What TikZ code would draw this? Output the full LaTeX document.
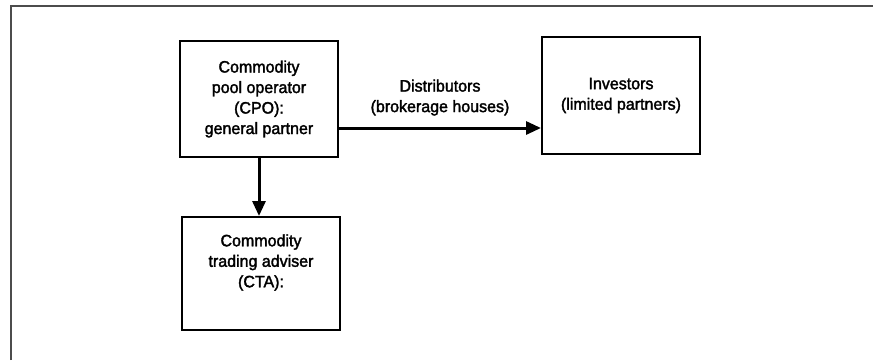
\documentclass[tikz,border=0pt]{standalone}
\usepackage{fontspec}
\setmainfont{Liberation Sans}[FakeStretch=0.97, FakeBold=2]
\usetikzlibrary{arrows.meta}

\tikzset{
  box/.style={draw=black, line width=2pt, minimum width=158pt, inner sep=0pt},
  boxtext/.style={align=center, font=\fontsize{16.5}{20.5}\selectfont, inner sep=0pt},
  flow/.style={line width=3pt, -{Triangle[length=15pt,width=13pt]}},
  frame/.style={draw=black!70, line width=2pt}
}

\begin{document}
\begin{tikzpicture}[x=1pt,y=1pt]
  \useasboundingbox (0,0) rectangle (873,-360);

  % open frame: top rule and left rule
  \draw[frame] (11,-360) -- (11,-5.5) -- (873,-5.5);

  % boxes
  \node[box, minimum height=116pt] (cpo) at (259,-99) {};
  \node[boxtext] (cpotext) at (cpo.center)
    {Commodity\\pool operator\\(CPO):\\general partner};

  \node[box, minimum height=117pt] (inv) at (621,-95.5) {};
  \node[boxtext] (invtext) at (inv.center)
    {Investors\\(limited partners)};

  \node[box, minimum height=113pt] (cta) at (261,-273.5) {};
  \node[boxtext] (ctatext) at ([yshift=11pt]cta.center)
    {Commodity\\trading adviser\\(CTA):};

  % connectors
  \draw[flow] ([yshift=-29pt]cpo.east) -- ([yshift=-29pt]cpo.east -| inv.west)
    node[boxtext, midway, above=11pt] (dist) {Distributors\\(brokerage houses)};
  \draw[flow] (cpo.south) -- (cpo.south |- cta.north);
\end{tikzpicture}
\end{document}
